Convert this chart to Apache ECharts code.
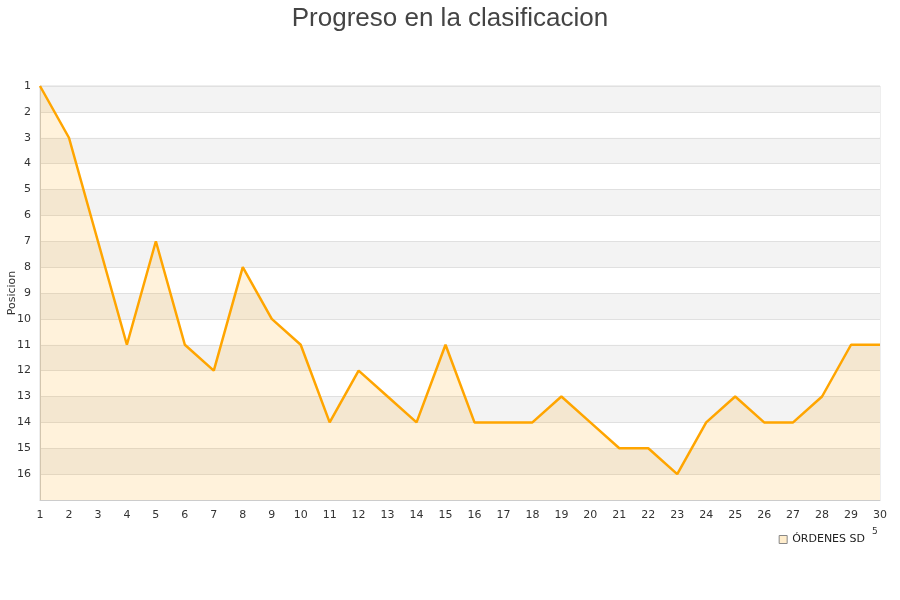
<!DOCTYPE html>
<html><head><meta charset="utf-8">
<script src="https://cdn.jsdelivr.net/npm/echarts@6/dist/echarts.min.js"></script>
<style>html,body{margin:0;padding:0;background:#fff}#c{width:900px;height:600px}</style>
</head><body><div id="c"></div>
<script>
var jornadas = [1,2,3,4,5,6,7,8,9,10,11,12,13,14,15,16,17,18,19,20,21,22,23,24,25,26,27,28,29,30];
var posiciones = [1,3,7,11,7,11,12,8,10,11,14,12,13,14,11,14,14,14,13,14,15,15,16,14,13,14,14,13,11,11];
var seriesName = 'ÓRDENES SD';
var chart = echarts.init(document.getElementById('c'));
chart.setOption({
  animation: false,
  title: {text: 'Progreso en la clasificacion', left: 'center', top: 1,
    textStyle: {fontFamily: 'Liberation Sans', fontSize: 26, fontWeight: 'normal', color: '#444'}},
  grid: {left: 40, right: 20, top: 86, bottom: 100, show: true, borderColor: '#ddd', borderWidth: 1,
    backgroundColor: 'transparent', containLabel: false, outerBoundsMode: 'none'},
  legend: {data: [{name: seriesName, icon: 'rect'}], right: 30, top: 529, itemWidth: 8, itemHeight: 8, itemGap: 8,
    textStyle: {fontFamily: 'DejaVu Sans', fontSize: 11, color: '#222'},
    itemStyle: {color: 'rgba(255,165,0,0.2)', borderColor: '#888', borderWidth: 1}},
  xAxis: {type: 'category', data: jornadas, boundaryGap: false,
    axisLine: {lineStyle: {color: '#ccc'}}, axisTick: {show: false},
    axisLabel: {fontFamily: 'DejaVu Sans', fontSize: 11, color: '#333', margin: 10},
    splitLine: {show: false}},
  yAxis: {type: 'value', inverse: true, min: 1, max: 17, interval: 1,
    name: 'Posicion', nameLocation: 'middle', nameGap: 22, nameRotate: 90, nameMoveOverlap: false,
    nameTextStyle: {fontFamily: 'DejaVu Sans', fontSize: 11, color: '#333'},
    axisLine: {show: true, lineStyle: {color: '#ccc'}}, axisTick: {show: false},
    axisLabel: {fontFamily: 'DejaVu Sans', fontSize: 11, color: '#333', margin: 9,
      formatter: function(v){ return v === 17 ? '' : v; }},
    splitLine: {show: true, lineStyle: {color: '#e0e0e0'}},
    splitArea: {show: true, areaStyle: {color: ['#f3f3f3', '#ffffff']}}},
  graphic: [{type: 'text', left: 872, top: 527, style: {text: '5', font: '9px DejaVu Sans', fill: '#333'}}],
  series: [{name: seriesName, type: 'line', data: posiciones, symbol: 'none',
    lineStyle: {color: '#FFA500', width: 2.5}, itemStyle: {color: '#FFA500'},
    areaStyle: {color: 'rgba(255,165,0,0.2)', origin: 'end'}}]
});
</script></body></html>
